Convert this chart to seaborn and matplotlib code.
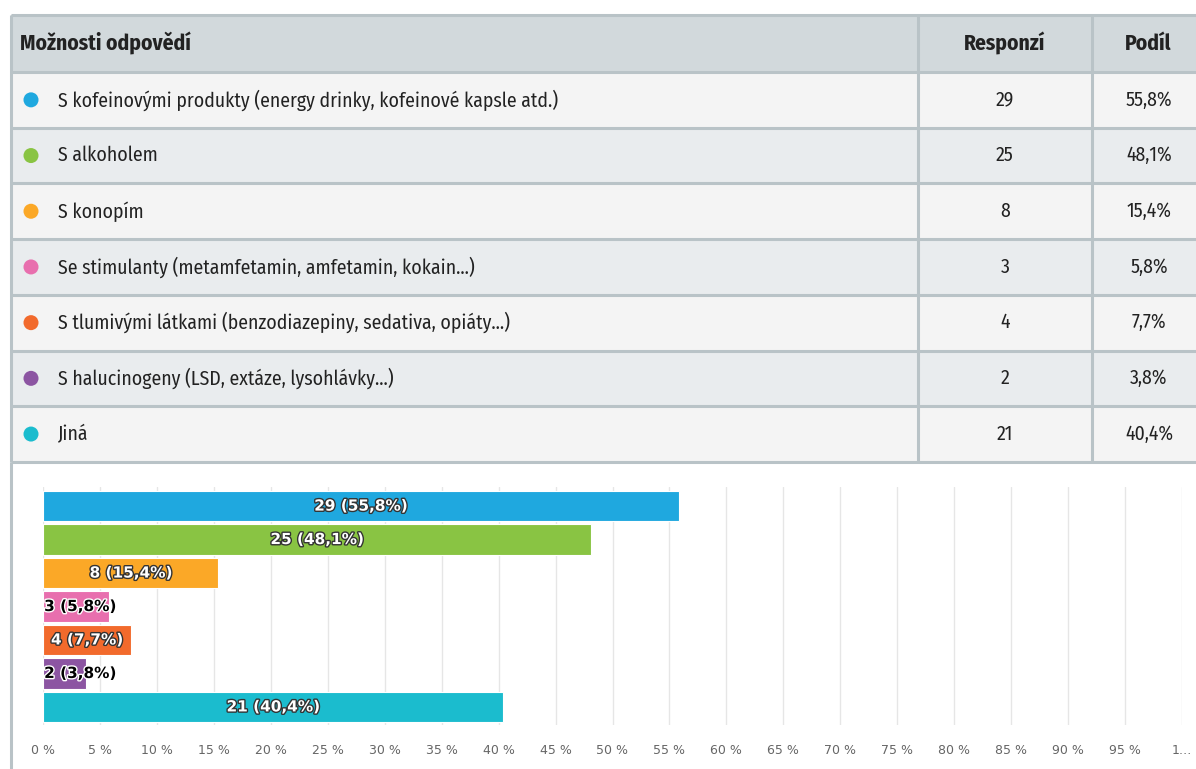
import matplotlib
matplotlib.use("Agg")
import matplotlib.pyplot as plt
import matplotlib.patheffects as pe
from matplotlib.patches import Rectangle, Circle
import seaborn as sns
import pandas as pd

# data
moznosti = [
    "S kofeinovými produkty (energy drinky, kofeinové kapsle atd.)",
    "S alkoholem",
    "S konopím",
    "Se stimulanty (metamfetamin, amfetamin, kokain...)",
    "S tlumivými látkami (benzodiazepiny, sedativa, opiáty...)",
    "S halucinogeny (LSD, extáze, lysohlávky...)",
    "Jiná",
]
responze = [29, 25, 8, 3, 4, 2, 21]
podil = [55.8, 48.1, 15.4, 5.8, 7.7, 3.8, 40.4]
barvy = ["#1fa8df", "#89c443", "#fba827", "#e86fae", "#f26a2c", "#8c55a2", "#1bbcce"]
x_ticks = list(range(0, 101, 5))
x_ticklabels = [f"{t} %" for t in x_ticks[:-1]] + ["1…"]

TAB_FONT = ["Fira Sans Condensed", "DejaVu Sans"]

sns.set_style("white")
plt.rcParams["font.family"] = ["DejaVu Sans"]

W, H = 1196, 769
fig = plt.figure(figsize=(W / 100, H / 100), dpi=100)

# ---- tabulka (pixel coordinates) ----
axt = fig.add_axes([0, 0, 1, 1])
axt.set_xlim(0, W)
axt.set_ylim(H, 0)
axt.axis("off")

border = "#b9c3c7"
top, head_h, row_h = 15, 57, 55.7
left, col1, col2, right = 11, 918, 1092, 1200

axt.add_patch(Rectangle((left, top), right - left, head_h, fc="#d2d9dc", ec="none"))
for i in range(len(moznosti)):
    y0 = top + head_h + i * row_h
    fc = "#f4f4f4" if i % 2 == 0 else "#e9ecee"
    axt.add_patch(Rectangle((left, y0), right - left, row_h, fc=fc, ec="none"))

bottom = top + head_h + len(moznosti) * row_h
for i in range(len(moznosti) + 2):
    y = top + head_h + (i - 1) * row_h if i > 0 else top
    axt.plot([left, right], [y, y], color=border, lw=2.2, solid_capstyle="butt")
for x in [left, col1, col2]:
    axt.plot([x, x], [top, bottom], color=border, lw=2.2, solid_capstyle="butt")
axt.plot([left, left], [bottom, H], color=border, lw=2.2, solid_capstyle="butt")

fs = 14.2
fs_h = 15.5
hy = top + head_h / 2
axt.text(20, hy, "Možnosti odpovědí", fontsize=fs_h, fontweight="bold", va="center", color="#222", family=TAB_FONT)
axt.text((col1 + col2) / 2, hy, "Responzí", fontsize=fs_h, fontweight="bold", va="center", ha="center", color="#222", family=TAB_FONT)
axt.text(1148, hy, "Podíl", fontsize=fs_h, fontweight="bold", va="center", ha="center", color="#222", family=TAB_FONT)

for i, (m, r, p, c) in enumerate(zip(moznosti, responze, podil, barvy)):
    cy = top + head_h + (i + 0.5) * row_h
    axt.add_patch(Circle((31, cy), 7.5, fc=c, ec="none"))
    axt.text(58, cy, m, fontsize=fs, va="center", color="#222", family=TAB_FONT)
    axt.text((col1 + col2) / 2, cy, str(r), fontsize=fs, va="center", ha="center", color="#222", family=TAB_FONT)
    axt.text(1149, cy, f"{p:.1f}%".replace(".", ","), fontsize=fs, va="center", ha="center", color="#222", family=TAB_FONT)

# ---- graf ----
ax = fig.add_axes([43 / W, 1 - 725 / H, (1182 - 43) / W, (725 - 487) / H])
df = pd.DataFrame({"moznost": moznosti, "podil": podil})
sns.barplot(data=df, x="podil", y="moznost", hue="moznost", palette=barvy,
            orient="h", width=0.9, legend=False, ax=ax, saturation=1,
            edgecolor="white", linewidth=0.8)
ax.set_xlim(0, 100)
ax.set_ylim(6.54, -0.57)
ax.set_xticks(x_ticks)
ax.set_xticklabels(x_ticklabels, fontsize=9, color="#666")
ax.set_yticks([0, 2.5, 5])
ax.set_yticklabels([])
ax.tick_params(axis="y", length=11, color="#ccd6eb", width=1)
ax.tick_params(axis="x", length=0, pad=14)
ax.set_xlabel("")
ax.set_ylabel("")
ax.xaxis.grid(True, color="#e6e6e6", lw=1)
ax.set_axisbelow(True)
for s in ax.spines.values():
    s.set_visible(False)

for i, (r, p) in enumerate(zip(responze, podil)):
    lab = f"{r} ({p:.1f}%)".replace(".", ",")
    if p >= 7:
        ax.text(p / 2, i, lab, ha="center", va="center", fontsize=11, fontweight="bold",
                color="white", path_effects=[pe.withStroke(linewidth=2, foreground="#333")])
    else:
        ax.text(0.1, i, lab, ha="left", va="center", fontsize=11, fontweight="bold",
                color="black", path_effects=[pe.withStroke(linewidth=2, foreground="white")])

fig.savefig("out.png", dpi=100, facecolor="white")
